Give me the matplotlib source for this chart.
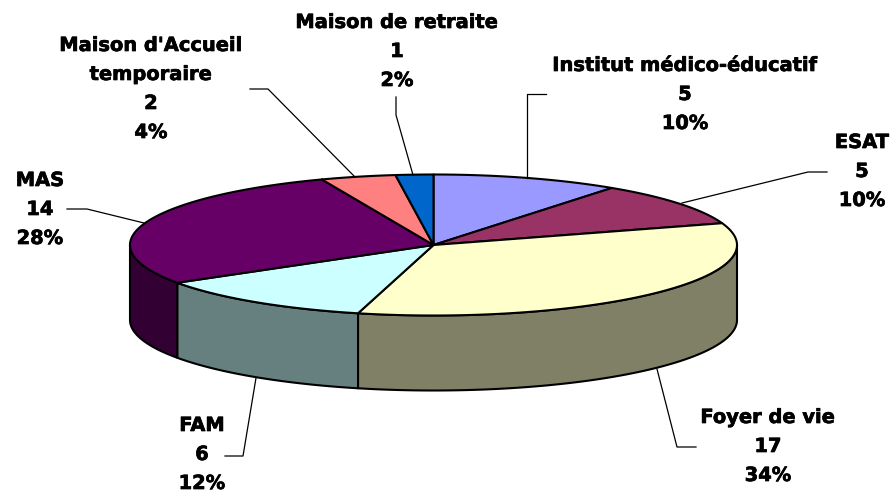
"""Tilted 3D pie chart of facility types."""

import matplotlib

matplotlib.use("Agg")

import matplotlib.patheffects as pe
import matplotlib.pyplot as plt
import numpy as np

CATEGORIES = [
    "Institut médico-éducatif",
    "ESAT",
    "Foyer de vie",
    "FAM",
    "MAS",
    "Maison d'Accueil\ntemporaire",
    "Maison de retraite",
]
VALUES = [5, 5, 17, 6, 14, 2, 1]
PERCENTS = ["10%", "10%", "34%", "12%", "28%", "4%", "2%"]
TOP_COLORS = ["#9999FF", "#993366", "#FFFFCC", "#CCFFFF", "#660066", "#FF8080", "#0066CC"]
SIDE_COLORS = ["#4D4D80", "#4D1A33", "#808066", "#668080", "#330033", "#804040", "#003366"]

# pie geometry, in reference pixels
CX, CY = 433.5, 245.0
RX, RY = 303.5, 70.5
DEPTH = 75.0

# label centre x and first baseline y
LABEL_POS = [
    (685, 71),
    (862, 148),
    (768, 423),
    (202, 431),
    (40, 186),
    (151, 51),
    (397, 28),
]
LINE_PITCH = 29.0

LEADER_LINES = [
    [(546, 94), (527, 94), (527, 178)],
    [(827, 172), (808, 172), (682, 203)],
    [(696, 447), (677, 447), (657, 369)],
    [(225, 456), (243, 456), (256, 378)],
    [(67, 209), (87, 209), (144, 223)],
    [(250, 89), (268, 89), (354, 176)],
    [(396, 97), (396, 115), (413, 175)],
]


def edge_points(start, stop, n=120):
    """Rim points between two clockwise-from-top angles (radians)."""
    t = np.linspace(start, stop, n)
    return CX + RX * np.sin(t), CY - RY * np.cos(t)


def main():
    fig = plt.figure(figsize=(8.95, 4.93), dpi=100)
    ax = fig.add_axes([0, 0, 1, 1])
    ax.set_xlim(0, 895)
    ax.set_ylim(493, 0)
    ax.axis("off")

    fractions = np.array(VALUES) / sum(VALUES)
    edges = np.concatenate([[0], np.cumsum(fractions)]) * 2 * np.pi

    # side walls: only the front half of the rim is visible
    for i in range(len(VALUES)):
        start = max(edges[i], np.pi / 2)
        stop = min(edges[i + 1], 3 * np.pi / 2)
        if start >= stop:
            continue
        x, y = edge_points(start, stop)
        ax.fill(
            np.r_[x, x[::-1]],
            np.r_[y, y[::-1] + DEPTH],
            facecolor=SIDE_COLORS[i],
            edgecolor="black",
            linewidth=1.5,
            joinstyle="round",
            zorder=2,
        )

    # top face
    for i in range(len(VALUES)):
        x, y = edge_points(edges[i], edges[i + 1])
        ax.fill(
            np.r_[CX, x],
            np.r_[CY, y],
            facecolor=TOP_COLORS[i],
            edgecolor="black",
            linewidth=1.5,
            joinstyle="round",
            zorder=3,
        )

    for line in LEADER_LINES:
        xs, ys = zip(*line)
        ax.plot(xs, ys, color="black", linewidth=0.9, zorder=4)

    # thin stroke so the labels are as heavy as the reference
    heavy = [pe.withStroke(linewidth=0.5, foreground="black")]
    for name, value, pct, (x, y) in zip(CATEGORIES, VALUES, PERCENTS, LABEL_POS):
        rows = name.split("\n") + [str(value), pct]
        for k, row in enumerate(rows):
            ax.text(
                x,
                y + k * LINE_PITCH,
                row,
                ha="center",
                va="baseline",
                family="DejaVu Sans",
                fontsize=14,
                fontweight="bold",
                color="black",
                path_effects=heavy,
                zorder=5,
            )

    fig.savefig("out.png", dpi=100)
    plt.close(fig)


if __name__ == "__main__":
    main()
